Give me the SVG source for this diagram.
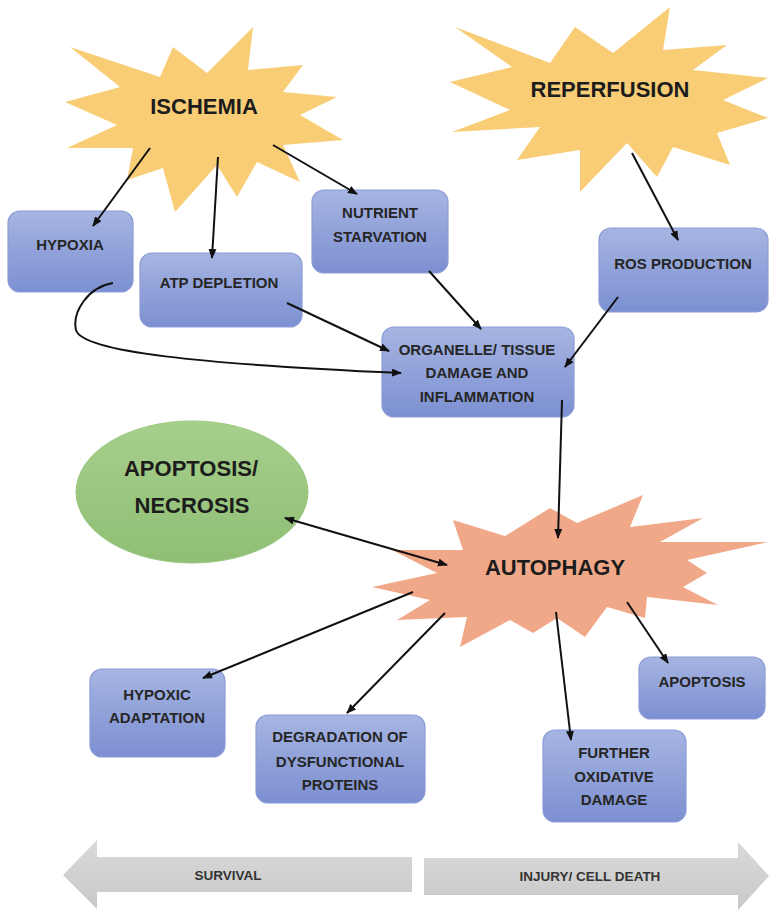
<svg xmlns="http://www.w3.org/2000/svg" width="769" height="910" viewBox="0 0 769 910">
<defs>
<linearGradient id="gBox" x1="0" y1="0" x2="0" y2="1">
<stop offset="0" stop-color="#a6b5e2"/>
<stop offset="1" stop-color="#7c8fd1"/>
</linearGradient>
<linearGradient id="gEll" x1="0" y1="0" x2="0" y2="1">
<stop offset="0" stop-color="#a7cf8c"/>
<stop offset="1" stop-color="#8fbe74"/>
</linearGradient>
<linearGradient id="gGray" x1="0" y1="0" x2="0" y2="1">
<stop offset="0" stop-color="#d9d9d9"/>
<stop offset="1" stop-color="#c9c9c9"/>
</linearGradient>
<marker id="ah" viewBox="0 0 10 8" refX="9" refY="4" markerWidth="10" markerHeight="8" markerUnits="userSpaceOnUse" orient="auto-start-reverse">
<path d="M0,0 L10,4 L0,8 z" fill="#111"/>
</marker>
</defs>
<style>
.box{fill:url(#gBox);stroke:#8b9cd6;stroke-width:1.2}
.lbl{font-family:"Liberation Sans",Arial,sans-serif;font-weight:bold;font-size:15px;fill:#262626;text-anchor:middle}
.big{font-family:"Liberation Sans",Arial,sans-serif;font-weight:bold;font-size:22px;fill:#1c1c1c;text-anchor:middle}
.sm{font-family:"Liberation Sans",Arial,sans-serif;font-weight:bold;font-size:13.5px;fill:#333;text-anchor:middle}
.star{fill:#f8cd76}
.conn{fill:none;stroke:#111;stroke-width:2;marker-end:url(#ah)}
</style>
<rect width="769" height="910" fill="#ffffff"/>

<g id="ischemia">
<polygon class="star" points="70,47 160,77 173,47 207,73 253,27 248,70 303,65 283,92 337,97 300,115 343,140 283,145 300,182 257,162 237,197 217,165 175,212 163,168 127,180 133,148 67,148 117,125 65,102 120,87"/>
<text class="big" x="204" y="114">ISCHEMIA</text>
</g>

<g id="reperfusion">
<polygon class="star" points="455,27 550,63 575,27 613,53 670,7 663,50 727,45 693,70 768,78 723,100 768,118 717,133 730,165 673,147 657,177 627,143 580,192 580,150 517,160 540,127 452,132 510,110 450,82 512,67"/>
<text class="big" x="610" y="97">REPERFUSION</text>
</g>

<g id="hypoxia">
<rect class="box" x="8" y="211" width="125" height="81" rx="12"/>
<text class="lbl" x="70" y="250">HYPOXIA</text>
</g>

<g id="atp">
<rect class="box" x="140" y="253" width="162" height="74" rx="12"/>
<text class="lbl" x="219" y="288">ATP DEPLETION</text>
</g>

<g id="nutrient">
<rect class="box" x="312" y="190" width="136" height="83" rx="12"/>
<text class="lbl" x="380" y="218">NUTRIENT</text>
<text class="lbl" x="380" y="242">STARVATION</text>
</g>

<g id="ros">
<rect class="box" x="599" y="228" width="169" height="84" rx="12"/>
<text class="lbl" x="683" y="269">ROS PRODUCTION</text>
</g>

<g id="organelle">
<rect class="box" x="382" y="327" width="192" height="90" rx="12"/>
<text class="lbl" x="477" y="355">ORGANELLE/ TISSUE</text>
<text class="lbl" x="477" y="378">DAMAGE AND</text>
<text class="lbl" x="477" y="402">INFLAMMATION</text>
</g>

<g id="apoptosis-necrosis">
<ellipse cx="192" cy="492" rx="116" ry="71" fill="url(#gEll)" stroke="#9cc882" stroke-width="1"/>
<text class="big" x="191" y="476">APOPTOSIS/</text>
<text class="big" x="192" y="513">NECROSIS</text>
</g>

<g id="autophagy">
<polygon fill="#f1a888" points="453,520 463,550 392,550 437,573 372,587 430,600 397,620 467,617 460,647 510,620 533,633 557,618 585,637 607,607 645,618 647,597 718,605 683,587 707,573 687,560 768,542 660,542 703,518 630,527 643,495 577,523 550,508 505,536"/>
<text class="big" x="555" y="575">AUTOPHAGY</text>
</g>

<g id="hypoxic-adaptation">
<rect class="box" x="90" y="669" width="135" height="88" rx="12"/>
<text class="lbl" x="157" y="700">HYPOXIC</text>
<text class="lbl" x="157" y="723">ADAPTATION</text>
</g>

<g id="degradation">
<rect class="box" x="256" y="715" width="169" height="88" rx="12"/>
<text class="lbl" x="340" y="742">DEGRADATION OF</text>
<text class="lbl" x="340" y="767">DYSFUNCTIONAL</text>
<text class="lbl" x="340" y="790">PROTEINS</text>
</g>

<g id="further">
<rect class="box" x="543" y="730" width="143" height="92" rx="12"/>
<text class="lbl" x="614" y="758">FURTHER</text>
<text class="lbl" x="614" y="782">OXIDATIVE</text>
<text class="lbl" x="614" y="805">DAMAGE</text>
</g>

<g id="apoptosis">
<rect class="box" x="639" y="657" width="126" height="62" rx="12"/>
<text class="lbl" x="702" y="687">APOPTOSIS</text>
</g>

<g id="survival">
<polygon fill="url(#gGray)" points="63,875 97,840 97,857 412,857 412,892 97,892 97,909"/>
<text class="sm" x="228" y="880">SURVIVAL</text>
</g>

<g id="injury">
<polygon fill="url(#gGray)" points="424,858 738,858 738,842 769,876 738,910 738,895 424,895"/>
<text class="sm" x="590" y="881">INJURY/ CELL DEATH</text>
</g>

<g id="connectors">
<line class="conn" x1="150" y1="148" x2="93" y2="226"/>
<line class="conn" x1="218" y1="157" x2="212" y2="258"/>
<line class="conn" x1="273" y1="145" x2="357" y2="194"/>
<line class="conn" x1="632" y1="153" x2="678" y2="240"/>
<path class="conn" d="M113,283 C88,287 72,312 76,330 C82,352 200,364 401,373"/>
<line class="conn" x1="287" y1="303" x2="389" y2="351"/>
<line class="conn" x1="429" y1="271" x2="481" y2="329"/>
<line class="conn" x1="618" y1="297" x2="565" y2="367"/>
<line class="conn" x1="562" y1="400" x2="558" y2="538"/>
<line class="conn" x1="447" y1="565" x2="285" y2="518" style="marker-start:url(#ah)"/>
<line class="conn" x1="413" y1="592" x2="203" y2="678"/>
<line class="conn" x1="445" y1="613" x2="347" y2="713"/>
<line class="conn" x1="556" y1="612" x2="571" y2="740"/>
<line class="conn" x1="627" y1="602" x2="668" y2="663"/>
</g>
</svg>
